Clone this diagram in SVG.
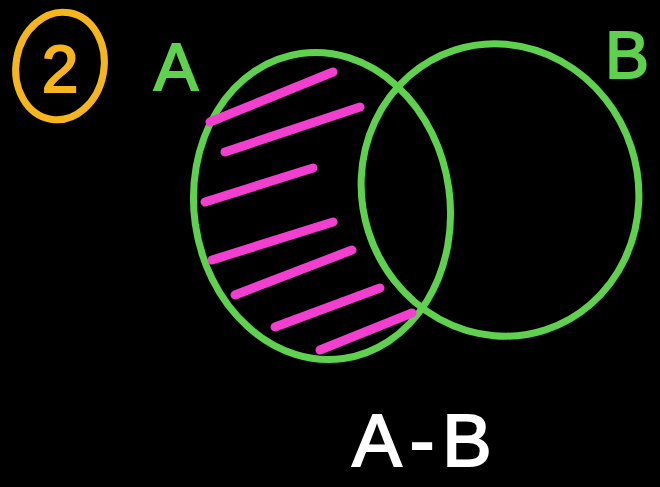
<svg xmlns="http://www.w3.org/2000/svg" width="660" height="487" viewBox="0 0 660 487">
<style>
.g{fill:none;stroke:#5fd14f;stroke-width:7;stroke-linecap:round}
.p{fill:none;stroke:#f23fd0;stroke-width:9;stroke-linecap:round}
.gt{fill:#5fd14f;stroke:#5fd14f;stroke-width:2;font-family:"Liberation Sans",sans-serif;font-size:66px}
.wt{fill:#fff;stroke:#fff;stroke-width:2;font-family:"Liberation Sans",sans-serif;font-size:74px;letter-spacing:8px}
</style>
<rect width="660" height="487" fill="#000"/>
<g id="num">
<ellipse cx="60" cy="66" rx="44" ry="54" transform="rotate(10 60 66)" fill="none" stroke="#f5b51c" stroke-width="7"/>
<text x="60" y="92" text-anchor="middle" font-family="Liberation Sans,sans-serif" font-size="66" fill="#f5b51c" stroke="#f5b51c" stroke-width="2">2</text>
</g>
<g id="setA">
<ellipse class="g" cx="322" cy="206" rx="128" ry="154" transform="rotate(-8 322 206)"/>
<text class="gt" x="176" y="90" text-anchor="middle">A</text>
</g>
<g id="setB">
<ellipse class="g" cx="500" cy="190" rx="138" ry="147" transform="rotate(-18 500 190)"/>
<text class="gt" x="627" y="78" text-anchor="middle">B</text>
</g>
<g id="hatch">
<line class="p" x1="210" y1="122" x2="333" y2="72"/>
<line class="p" x1="225" y1="152" x2="360" y2="107"/>
<line class="p" x1="205" y1="202" x2="313" y2="168"/>
<line class="p" x1="212" y1="260" x2="333" y2="222"/>
<line class="p" x1="235" y1="295" x2="352" y2="250"/>
<line class="p" x1="275" y1="327" x2="380" y2="288"/>
<line class="p" x1="320" y1="350" x2="412" y2="313"/>
</g>
<g id="label">
<text class="wt" x="426" y="466" text-anchor="middle">A-B</text>
</g>
</svg>
